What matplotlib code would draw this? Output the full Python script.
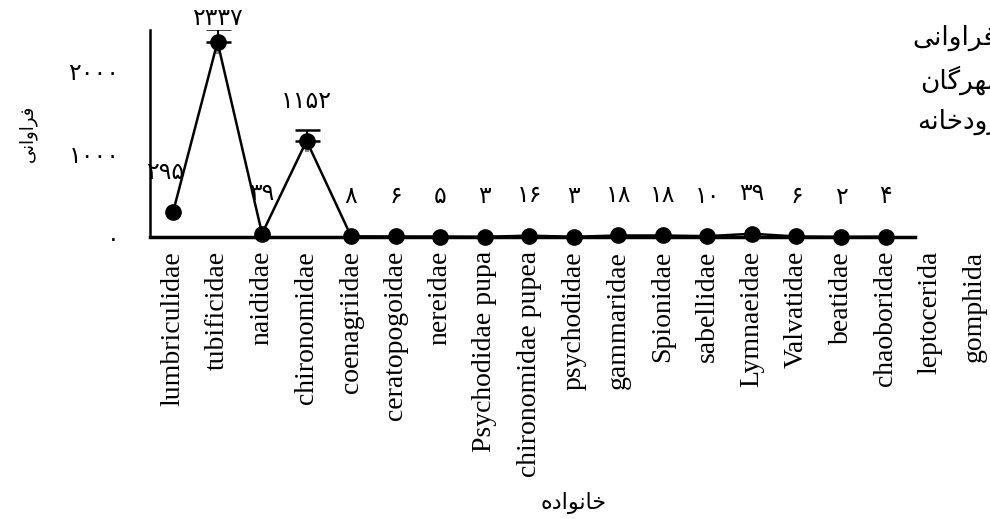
import matplotlib
matplotlib.use("Agg")
import matplotlib.pyplot as plt
from matplotlib.ticker import FuncFormatter

# ---------------- data ----------------
families = ['lumbriculidae', 'tubificidae', 'naididae', 'chironomidae', 'coenagriidae',
            'ceratopogoidae', 'nereidae', 'Psychodidae pupa', 'chironomidae pupea',
            'psychodidae', 'gammaridae', 'Spionidae', 'sabellidae', 'Lymnaeidae',
            'Valvatidae', 'beatidae', 'chaoboridae', 'leptocerida', 'gomphida']
values = [295, 2337, 39, 1152, 8, 6, 5, 3, 16, 3, 18, 18, 10, 39, 6, 2, 4]
errors = [0, 150, 0, 130, 0, 0, 0, 0, 0, 0, 0, 0, 0, 0, 0, 0, 0]
y_ticks = [0, 1000, 2000]
y_label = 'فراوانی'
x_label = 'خانواده'
side_texts = ['فراوانی', 'مهرگان', 'رودخانه']

# ---------------- minimal Persian shaping (matplotlib has no bidi) ----------------
FORMS = {
    'ا': ('\uFE8D', '\uFE8E', None, None),
    'ر': ('\uFEAD', '\uFEAE', None, None),
    'و': ('\uFEED', '\uFEEE', None, None),
    'د': ('\uFEA9', '\uFEAA', None, None),
    'ف': ('\uFED1', '\uFED2', '\uFED3', '\uFED4'),
    'ن': ('\uFEE5', '\uFEE6', '\uFEE7', '\uFEE8'),
    'ی': ('\uFEEF', '\uFEF0', '\uFEF3', '\uFEF4'),
    'خ': ('\uFEA5', '\uFEA6', '\uFEA7', '\uFEA8'),
    'ه': ('\uFEE9', '\uFEEA', '\uFEEB', '\uFEEC'),
    'م': ('\uFEE1', '\uFEE2', '\uFEE3', '\uFEE4'),
    'گ': ('\uFB92', '\uFB93', '\uFB94', '\uFB95'),
}


def shape(word):
    out = []
    for i, ch in enumerate(word):
        f = FORMS.get(ch)
        if f is None:
            out.append(ch)
            continue
        prev = word[i - 1] if i > 0 else None
        nxt = word[i + 1] if i + 1 < len(word) else None
        jp = prev is not None and prev in FORMS and FORMS[prev][2] is not None
        jn = f[2] is not None and nxt is not None and nxt in FORMS
        if jp and jn:
            out.append(f[3])
        elif jp:
            out.append(f[1])
        elif jn:
            out.append(f[2])
        else:
            out.append(f[0])
    return ''.join(reversed(out))


FA_DIGITS = str.maketrans('0123456789', '۰۱۲۳۴۵۶۷۸۹')


def fa(n):
    return str(int(n)).translate(FA_DIGITS)


# ---------------- figure ----------------
fig = plt.figure(figsize=(9.9, 5.19), dpi=100)
ax = fig.add_axes([150 / 990, 1 - 237 / 519, (988 - 150) / 990, (237 - 30) / 519])

x = list(range(len(values)))
ex = [i for i, e in enumerate(errors) if e > 0]
ev = [values[i] for i in ex]
ee = [errors[i] for i in ex]
# upper half of the error bars with caps
ax.errorbar(ex, ev, yerr=[[0] * len(ee), ee], fmt='none', ecolor='black',
            elinewidth=1.5, capsize=9, capthick=1.8, zorder=2)
# lower half, faint, without caps
ax.vlines(ex, [v - e for v, e in zip(ev, ee)], ev, colors='#888888', lw=3, zorder=1)
ax.plot(x, values, color='black', lw=1.8, marker='o', markersize=11,
        clip_on=False, zorder=3)

offsets = {0: (-6, 29), 1: (0, 17)}
for i, v in enumerate(values):
    dx, dy = offsets.get(i, (0, 29))
    ax.annotate(fa(v), (i, v), xytext=(dx, dy), textcoords='offset points',
                ha='center', va='center', fontsize=17, family='DejaVu Sans',
                color='black')

ax.set_xlim(-0.516, 18.3)
ax.set_ylim(0, 2480)
ax.set_xticks(range(len(families)))
ax.set_xticklabels(families, rotation=90, family='Liberation Serif', fontsize=20)
ax.set_yticks(y_ticks)
ax.yaxis.set_major_formatter(FuncFormatter(lambda v, p: fa(v)))
for lab in ax.get_yticklabels():
    lab.set_family('DejaVu Sans')
    lab.set_fontsize(17)
ax.tick_params(axis='x', length=0, pad=10)
ax.tick_params(axis='y', length=0, pad=22)

for s in ('top', 'right'):
    ax.spines[s].set_visible(False)
ax.spines['left'].set_linewidth(1.8)
ax.spines['bottom'].set_linewidth(2.5)
ax.spines['bottom'].set_bounds(-0.516, 16.65)

fig.text(28 / 990, 1 - 133 / 519, shape(y_label), rotation=90, ha='center', va='center',
         fontsize=13, family='DejaVu Sans')
fig.text(574 / 990, 1 - 503 / 519, shape(x_label), ha='center', va='center',
         fontsize=16, family='DejaVu Sans')

for (xl, yc), t in zip([(912, 38), (920, 80), (917, 122)], side_texts):
    fig.text(xl / 990, 1 - yc / 519, shape(t), ha='left', va='center',
             fontsize=19, family='DejaVu Sans')

fig.savefig('out.png', dpi=100)
